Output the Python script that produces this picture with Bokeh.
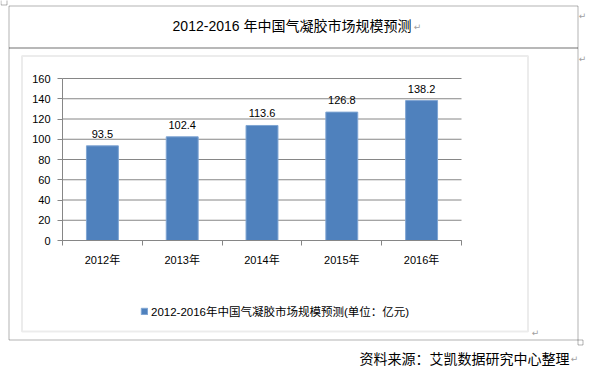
from bokeh.plotting import figure
from bokeh.models import (Range1d, FixedTicker, ColumnDataSource, LabelSet, Label, BoxAnnotation,
                          Legend, LegendItem)
from bokeh.core.properties import value
from bokeh.embed import file_html
from bokeh.resources import INLINE

# ---- data ----
years = ["2012年", "2013年", "2014年", "2015年", "2016年"]
market_size = [93.5, 102.4, 113.6, 126.8, 138.2]
value_labels = ["93.5", "102.4", "113.6", "126.8", "138.2"]
y_ticks = [0, 20, 40, 60, 80, 100, 120, 140, 160]
title_text = "2012-2016 年中国气凝胶市场规模预测"
series_name = "2012-2016年中国气凝胶市场规模预测(单位：亿元)"
source_text = "资料来源：艾凯数据研究中心整理"

FONT = "Liberation Sans, Noto Sans CJK SC"
CJK = "Noto Sans CJK SC"
GRAY = "#868686"

W, H = 592, 371
# plot-area anchors on the canvas (pixels)
AX_L, AX_R, AX_T, AX_B = 62, 461, 78, 240
n = len(years)
ymax = y_ticks[-1]
centers = [i + 0.5 for i in range(n)]
bounds = list(range(n + 1))

kx = n / (AX_R - AX_L)
ky = ymax / (AX_B - AX_T)
x_range = Range1d(-AX_L * kx, n + (W - AX_R) * kx)
y_range = Range1d(-(H - AX_B) * ky, ymax + AX_T * ky)

p = figure(width=W, height=H, x_range=x_range, y_range=y_range,
           output_backend="svg", toolbar_location=None, tools="",
           min_border=0, min_border_left=0, min_border_right=0, min_border_top=0, min_border_bottom=0)
p.outline_line_color = None
p.background_fill_color = "white"
p.border_fill_color = "white"
p.xgrid.visible = False
p.ygrid.visible = False

p.extra_x_ranges = {"px": Range1d(0, W)}
p.extra_y_ranges = {"py": Range1d(H, 0)}

# y axis
p.yaxis.fixed_location = 0
p.yaxis.bounds = (0, ymax)
p.yaxis.ticker = FixedTicker(ticks=y_ticks)
p.yaxis.axis_line_color = GRAY
p.yaxis.major_tick_line_color = GRAY
p.yaxis.major_tick_out = 5
p.yaxis.major_tick_in = 0
p.yaxis.minor_tick_line_color = None
p.yaxis.major_label_standoff = 7
p.yaxis.major_label_text_font = FONT
p.yaxis.major_label_text_font_size = "11px"
p.yaxis.major_label_text_color = "black"

# x axis: boundary (minor) ticks + category labels at centers
p.xaxis.fixed_location = 0
p.xaxis.bounds = (0, n)
p.xaxis.ticker = FixedTicker(ticks=centers, minor_ticks=bounds)
p.xaxis.major_label_overrides = {c: y for c, y in zip(centers, years)}
p.xaxis.axis_line_color = GRAY
p.xaxis.major_tick_line_color = None
p.xaxis.major_tick_out = 0
p.xaxis.major_tick_in = 0
p.xaxis.minor_tick_line_color = GRAY
p.xaxis.minor_tick_out = 5
p.xaxis.minor_tick_in = 0
p.xaxis.major_label_standoff = 8
p.xaxis.major_label_text_font = FONT
p.xaxis.major_label_text_font_size = "11px"
p.xaxis.major_label_text_color = "black"

# horizontal gridlines across the plot area
p.segment(x0=[0] * len(y_ticks), x1=[n] * len(y_ticks), y0=y_ticks, y1=y_ticks,
          line_color=GRAY, line_width=1)

src = ColumnDataSource(dict(x=centers, top=market_size, lab=value_labels, year=years))
bars = p.vbar(x="x", top="top", width=0.4, source=src, fill_color="#4F81BD", line_color="#7FA5D3",
              line_width=1)

p.add_layout(LabelSet(x="x", y="top", text="lab", source=src, y_offset=8, text_align="center",
                      text_baseline="bottom", text_font=value(FONT), text_font_size=value("11px"),
                      text_color="black"))

legend = Legend(items=[LegendItem(label=series_name, renderers=[bars])], location=(140, 52),
                orientation="horizontal", border_line_color=None, background_fill_alpha=0,
                padding=0, margin=0, spacing=0, glyph_width=8, glyph_height=8, label_standoff=3,
                label_height=11, label_text_font=FONT, label_text_font_size="11.5px",
                label_text_color="black")
p.add_layout(legend)

def box(l, t, r, b, color="black", lw=1, fill=None):
    p.add_layout(BoxAnnotation(left=l, right=r, top=t, bottom=b, x_range_name="px", y_range_name="py",
                               fill_color=fill, fill_alpha=1 if fill else 0, line_color=color,
                               line_width=lw, level="overlay"))

# table (title row + body)
box(8.5, 5.5, 577.5, 47.5)
box(8.5, 47.5, 577.5, 339.5)
# chart frame
box(21.5, 55.5, 527.5, 331, color="#BFBFBF", lw=2)
# table handles
box(577.5, 339.5, 582.5, 344.5, fill="white")
box(0.5, -1, 6.5, 4.5, fill="white")

def lab(x, y, text, size, align="center", color="black", font=FONT):
    p.add_layout(Label(x=x, y=y, text=text, x_range_name="px", y_range_name="py", text_align=align,
                       text_baseline="middle", text_font=font, text_font_size=size, text_color=color))

lab(291.5, 25, title_text, "14px")
lab(569, 357, source_text, "14px", align="right", font=CJK)
for (mx, my) in [(417, 26), (582, 15), (582, 58), (535, 332), (574, 358)]:
    lab(mx, my, "↵", "9px", color="#A0A0A0", font="DejaVu Sans")

open("out.html", "w").write(file_html(p, INLINE))
